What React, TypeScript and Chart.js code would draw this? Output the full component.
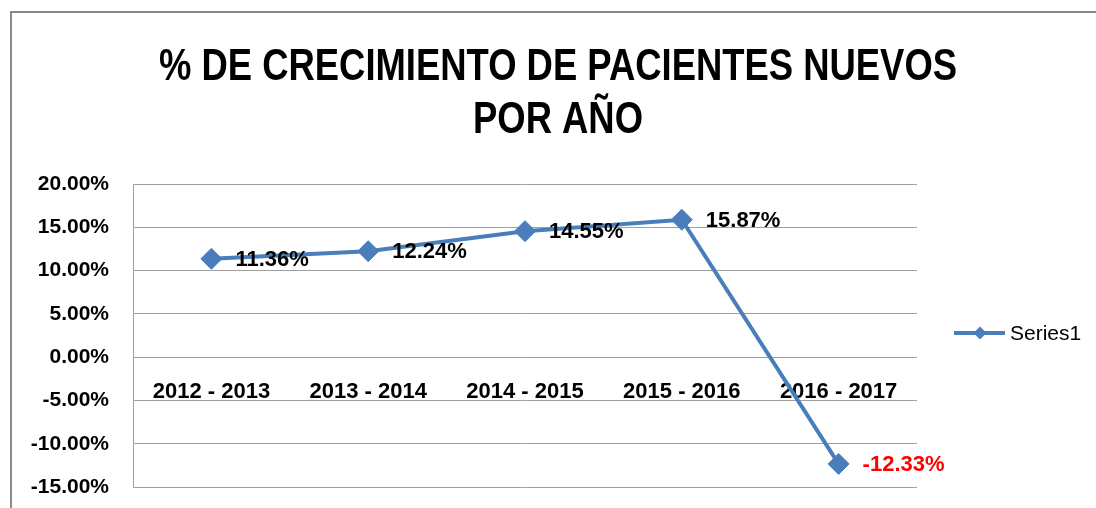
import React, { useEffect, useRef } from "react";
import { Chart, registerables } from "chart.js";

Chart.register(...registerables);

const titleLines = ["% DE CRECIMIENTO DE PACIENTES NUEVOS", "POR AÑO"];
const categories = ["2012 - 2013", "2013 - 2014", "2014 - 2015", "2015 - 2016", "2016 - 2017"];
const seriesName = "Series1";
const values = [11.36, 12.24, 14.55, 15.87, -12.33];
const labelColors = ["#000000", "#000000", "#000000", "#000000", "#FF0000"];
const yMin = -15;
const yMax = 20;
const yStep = 5;

const BLUE = "#4A7EBB";
const SANS = '"Liberation Sans", Arial, sans-serif';

const framePlugin = {
  id: "frame",
  beforeDraw(chart: any) {
    const ctx = chart.ctx;
    ctx.save();
    ctx.strokeStyle = "#8a8a8a";
    ctx.lineWidth = 2;
    ctx.strokeRect(11, 12, 1300, 700);
    ctx.restore();
  },
};

const titlePlugin = {
  id: "customTitle",
  afterDraw(chart: any) {
    const ctx = chart.ctx;
    ctx.save();
    ctx.font = `bold 45px ${SANS}`;
    ctx.fillStyle = "#000000";
    ctx.textBaseline = "alphabetic";
    ctx.textAlign = "center";
    const w = ctx.measureText(titleLines[0]).width;
    const ratio = 798 / w;
    const cx = 558;
    const baselines = [80, 133];
    titleLines.forEach((line, i) => {
      ctx.save();
      ctx.translate(cx, baselines[i]);
      ctx.scale(ratio, 1);
      ctx.fillText(line, 0, 0);
      ctx.restore();
    });
    ctx.restore();
  },
};

const legendPlugin = {
  id: "customLegend",
  afterDraw(chart: any) {
    const ctx = chart.ctx;
    const area = chart.chartArea;
    const y = Math.round((area.top + area.bottom) / 2) - 3;
    const x0 = 954;
    ctx.save();
    ctx.strokeStyle = BLUE;
    ctx.lineWidth = 4;
    ctx.beginPath();
    ctx.moveTo(x0, y);
    ctx.lineTo(x0 + 51, y);
    ctx.stroke();
    ctx.fillStyle = BLUE;
    const cx = x0 + 26;
    const r = 6.5;
    ctx.beginPath();
    ctx.moveTo(cx - r, y);
    ctx.lineTo(cx, y - r);
    ctx.lineTo(cx + r, y);
    ctx.lineTo(cx, y + r);
    ctx.closePath();
    ctx.fill();
    ctx.fillStyle = "#000000";
    ctx.font = `21px ${SANS}`;
    ctx.textAlign = "left";
    ctx.textBaseline = "middle";
    ctx.fillText(chart.data.datasets[0].label, x0 + 56, y + 1);
    ctx.restore();
  },
};

const dataLabelPlugin = {
  id: "dataLabels",
  afterDatasetsDraw(chart: any) {
    const ctx = chart.ctx;
    const meta = chart.getDatasetMeta(0);
    ctx.save();
    ctx.font = `bold 22px ${SANS}`;
    ctx.textAlign = "left";
    ctx.textBaseline = "middle";
    meta.data.forEach((pt: any, i: number) => {
      ctx.fillStyle = labelColors[i];
      ctx.fillText(values[i].toFixed(2) + "%", pt.x + 24, pt.y + 1);
    });
    ctx.restore();
  },
};

export default function App() {
  const ref = useRef<HTMLCanvasElement>(null);
  useEffect(() => {
    if (!ref.current) return;
    const chart = new Chart(ref.current, {
      type: "line",
      data: {
        labels: categories,
        datasets: [
          {
            label: seriesName,
            data: values,
            borderColor: BLUE,
            backgroundColor: BLUE,
            borderWidth: 4,
            tension: 0,
            pointStyle: "rectRot",
            pointRadius: 10.5,
            pointBackgroundColor: BLUE,
            pointBorderColor: BLUE,
            pointBorderWidth: 1,
          },
        ],
      },
      options: {
        responsive: false,
        animation: false,
        devicePixelRatio: 1,
        layout: { padding: { left: 20, right: 179, top: 184, bottom: 21 } },
        plugins: {
          title: { display: false },
          legend: { display: false },
          tooltip: { enabled: false },
        },
        scales: {
          x: {
            type: "category",
            offset: true,
            position: { y: 0 } as any,
            grid: { display: false, drawTicks: false },
            border: { display: false },
            ticks: {
              color: "#000000",
              font: { family: SANS, size: 22, weight: "bold" },
              padding: 22,
              maxRotation: 0,
              autoSkip: false,
            },
          },
          y: {
            min: yMin,
            max: yMax,
            grid: { color: "#a0a0a0", lineWidth: 1, drawTicks: false },
            border: { display: true, color: "#a0a0a0", width: 1 },
            afterFit: (scale: any) => {
              scale.width = 113;
              scale.paddingTop = 0;
              scale.paddingBottom = 0;
            },
            ticks: {
              stepSize: yStep,
              color: "#000000",
              font: { family: SANS, size: 21, weight: "bold" },
              padding: 24,
              callback: (v: any) => Number(v).toFixed(2) + "%",
            },
          },
        },
      },
      plugins: [framePlugin, dataLabelPlugin, titlePlugin, legendPlugin],
    });
    return () => chart.destroy();
  }, []);
  return (
    <canvas
      ref={ref}
      width={1096}
      height={508}
      style={{ position: "fixed", left: 0, top: 0, width: 1096, height: 508 }}
    />
  );
}
